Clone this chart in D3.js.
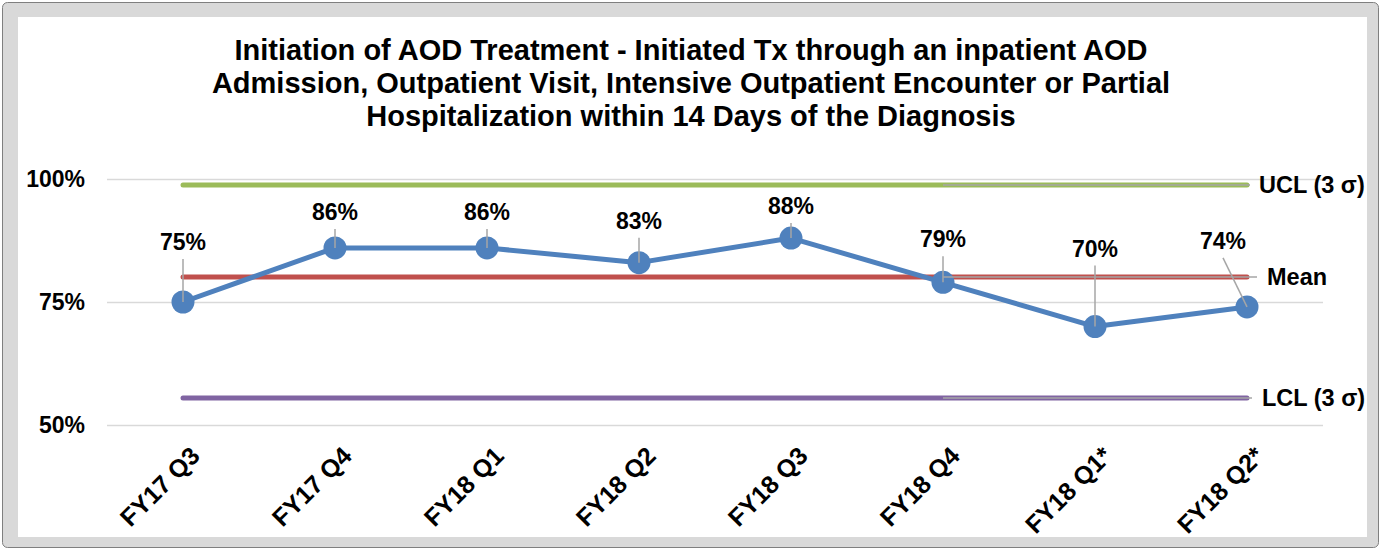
<!DOCTYPE html>
<meta charset="utf-8">
<script src="https://cdnjs.cloudflare.com/ajax/libs/d3/7.8.5/d3.min.js"></script>
<style>
  body { margin: 0; background: #fff; }
  text { font-family: "Liberation Sans", Arial, sans-serif; font-weight: bold; fill: #000; }
</style>
<div id="chart"></div>
<script>
  // data
  const quarters = ['FY17 Q3', 'FY17 Q4', 'FY18 Q1', 'FY18 Q2', 'FY18 Q3', 'FY18 Q4', 'FY18 Q1*', 'FY18 Q2*']
  const rates = [75, 86, 86, 83, 88, 79, 70, 74]
  const ucl = [98.8, 98.8, 98.8, 98.8, 98.8, 98.8, 98.8, 98.8]
  const mean = [80.1, 80.1, 80.1, 80.1, 80.1, 80.1, 80.1, 80.1]
  const lcl = [55.5, 55.5, 55.5, 55.5, 55.5, 55.5, 55.5, 55.5]
  const yTicks = [50, 75, 100]
  const titleLines = [
    'Initiation of AOD Treatment - Initiated Tx through an inpatient AOD',
    'Admission, Outpatient Visit, Intensive Outpatient Encounter or Partial',
    'Hospitalization within 14 Days of the Diagnosis'
  ]

  // hand-placed data label offsets (px), like the dragged labels in the original
  const labelOffsets = [[0, -52], [0, -28], [0, -28], [0, -34], [0, -24], [0, -35], [0, -70], [-24, -58]]

  const W = 1382, H = 550
  const svg = d3.select('#chart').append('svg').attr('width', W).attr('height', H)

  // frame
  svg.append('rect').attr('x', 2.5).attr('y', 2.5).attr('width', W - 6).attr('height', H - 5)
    .attr('rx', 5).attr('fill', '#d9d9d9').attr('stroke', '#7f7f7f')
  svg.append('rect').attr('x', 18).attr('y', 17).attr('width', 1349).attr('height', 520).attr('fill', '#fff')

  // title
  svg.append('g').selectAll('text').data(titleLines).join('text')
    .attr('x', 691).attr('y', (d, i) => 60 + i * 33)
    .attr('text-anchor', 'middle').style('font-size', '29px')
    .text(d => d)

  const x = d3.scaleBand().domain(quarters).range([107, 1323])
  const cx = d => x(d) + x.bandwidth() / 2
  const y = d3.scaleLinear().domain([50, 100]).range([425, 179])

  // gridlines + y labels
  const yAxis = d3.axisLeft(y).tickValues(yTicks).tickSize(-(1323 - 107)).tickFormat(d => d + '%').tickPadding(22)
  const ya = svg.append('g').attr('transform', 'translate(107,0)').call(yAxis)
  ya.select('.domain').remove()
  ya.selectAll('.tick line').attr('stroke', '#d9d9d9').attr('stroke-width', 1.5)
  ya.selectAll('.tick text').style('font-size', '23px').attr('fill', '#000')

  // x labels
  const xAxis = d3.axisBottom(x).tickSize(0).tickPadding(0)
  const xa = svg.append('g').attr('transform', 'translate(0,425)').call(xAxis)
  xa.select('.domain').remove()
  xa.selectAll('.tick text')
    .style('font-size', '25px').attr('fill', '#000')
    .attr('text-anchor', 'end').attr('dy', null).attr('y', 0)
    .attr('dominant-baseline', 'central')
    .attr('transform', 'translate(12,26) rotate(-45)')

  // control lines
  const line = d3.line().x((d, i) => cx(quarters[i])).y(d => y(d))
  const controls = [
    { name: 'UCL (3 σ)', values: ucl, color: '#9bbb59', end: 1250, tx: 1259 },
    { name: 'Mean', values: mean, color: '#c0504d', end: 1257, tx: 1267 },
    { name: 'LCL (3 σ)', values: lcl, color: '#8064a2', end: 1252, tx: 1262 }
  ]
  controls.forEach(c => {
    svg.append('path').datum(c.values).attr('d', line)
      .attr('fill', 'none').attr('stroke', c.color).attr('stroke-width', 5).attr('stroke-linecap', 'round')
  })

  // series
  svg.append('path').datum(rates).attr('d', line)
    .attr('fill', 'none').attr('stroke', '#4f81bd').attr('stroke-width', 5).attr('stroke-linejoin', 'round')
  svg.append('g').selectAll('circle').data(rates).join('circle')
    .attr('cx', (d, i) => cx(quarters[i])).attr('cy', d => y(d)).attr('r', 11.5).attr('fill', '#4f81bd')

  // control labels, leader lines back to the FY18 Q4 point
  controls.forEach(c => {
    const vy = y(c.values[5])
    svg.append('line').attr('x1', cx(quarters[5])).attr('x2', c.end).attr('y1', vy).attr('y2', vy)
      .attr('stroke', '#a6a6a6').attr('stroke-width', 1.5)
    svg.append('text').attr('x', c.tx).attr('y', vy).attr('dy', '0.35em')
      .style('font-size', '23.5px').text(c.name)
  })

  // data labels with leader lines
  const lbl = svg.append('g')
  rates.forEach((v, i) => {
    const px = cx(quarters[i]), py = y(v)
    const lx = px + labelOffsets[i][0], ly = py + labelOffsets[i][1]
    lbl.append('line').attr('x1', lx).attr('y1', ly + 9).attr('x2', px).attr('y2', py)
      .attr('stroke', '#a6a6a6').attr('stroke-width', 1.5)
    lbl.append('text').attr('x', lx).attr('y', ly).attr('text-anchor', 'middle')
      .style('font-size', '23px').text(v + '%')
  })
</script>
